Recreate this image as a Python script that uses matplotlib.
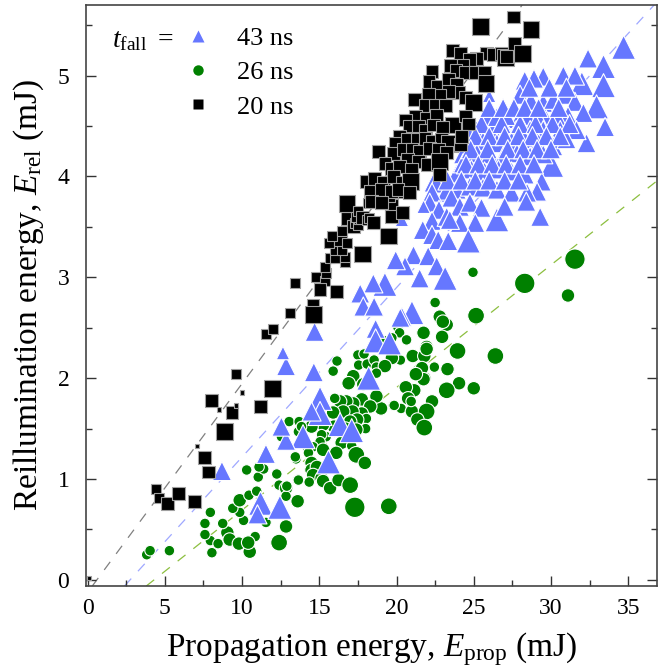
import matplotlib.pyplot as plt
from matplotlib.lines import Line2D
from matplotlib.ticker import MultipleLocator

plt.rcParams['font.family'] = 'Liberation Serif'
plt.rcParams['mathtext.fontset'] = 'custom'
plt.rcParams['mathtext.rm'] = 'Liberation Serif'
plt.rcParams['mathtext.it'] = 'Liberation Serif:italic'

## 20 ns (squares): x, y, marker class
sq_x = [0.1, 4.4, 4.6, 5.2, 5.9, 6.9, 7.55, 7.85, 7.1, 8.85, 9.35, 9.6, 8.5, 8.0, 10.0, 11.2, 11.95, 9.6,
        11.55, 12.0, 13.1, 14.6, 14.65, 13.4, 14.8, 15.4, 15.05, 16.1, 15.45, 15.4, 15.7, 16.0, 16.65, 16.65,
        16.0, 16.5, 15.6, 16.4, 16.8, 15.8, 16.5, 17.8, 19.5, 16.8, 16.8, 17.2, 17.3, 17.5, 17.6, 17.4, 17.5,
        17.8, 18.1, 18.2, 18.5, 18.15, 18.7, 19.1, 19.7, 19.7, 20.4, 19.6, 20.1,
        25.45, 23.6, 24.15, 25.8, 26.25, 26.8, 27.05, 25.2, 24.75, 23.5, 24.3, 23.85, 24.45, 25.1, 25.7, 22.3,
        25.8, 22.1, 22.65, 23.35, 23.9, 24.05, 24.45, 25.0, 23.35, 22.8, 22.05, 21.15, 21.85, 22.5, 23.15,
        21.25, 20.6, 21.95, 22.6, 23.65, 24.45, 24.65, 20.85, 21.4, 21.9, 22.4, 23.0, 20.2, 20.7, 21.35, 21.85,
        22.3, 22.9, 23.45, 24.15, 24.2, 18.85, 19.9, 19.8, 20.45, 21.0, 21.5, 22.15, 22.7, 23.25, 20.7, 21.4,
        22.0, 22.8, 19.25, 19.7, 20.2, 20.95, 22.8, 18.05, 18.6, 19.15, 19.8, 20.35, 20.9, 18.3, 19.05, 19.7,
        20.1, 20.85, 18.4, 19.05, 28.7, 27.65, 28.15, 27.1, 27.55]
sq_y = [0.02, 0.90, 0.81, 0.76, 0.86, 0.78, 1.21, 1.07, 1.33, 1.47, 1.66, 1.73, 1.69, 1.78, 1.86, 1.72, 1.90, 2.04,
        2.44, 2.49, 2.65, 2.72, 2.63, 2.94, 3.00, 2.96, 2.88, 2.86, 3.04, 3.10, 3.19, 3.19, 3.15, 3.20,
        3.27, 3.27, 3.34, 3.37, 3.34, 3.41, 3.46, 3.23, 3.41, 3.58, 3.73, 3.50, 3.54, 3.52, 3.58, 3.60, 3.66,
        3.59, 3.57, 3.59, 3.54, 3.74, 3.74, 3.74, 3.71, 3.60, 3.64, 3.80, 3.85,
        5.49, 5.25, 5.22, 5.22, 5.21, 5.22, 5.18, 5.17, 5.16, 5.10, 5.10, 5.05, 5.03, 5.03, 5.03, 5.04,
        4.92, 4.94, 4.89, 4.96, 4.91, 4.83, 4.78, 4.73, 4.84, 4.80, 4.81, 4.76, 4.70, 4.70, 4.70,
        4.60, 4.56, 4.58, 4.61, 4.51, 4.60, 4.52, 4.50, 4.50, 4.46, 4.51, 4.49, 4.40, 4.37, 4.37, 4.38,
        4.35, 4.37, 4.33, 4.32, 4.40, 4.25, 4.33, 4.23, 4.27, 4.27, 4.25, 4.28, 4.27, 4.24, 4.17, 4.15,
        4.12, 4.15, 4.13, 4.08, 4.10, 4.07, 4.02, 3.95, 3.98, 3.94, 4.00, 3.94, 3.95, 3.85, 3.87, 3.85,
        3.87, 3.84, 3.75, 3.74, 5.46, 5.32, 5.22, 5.19, 5.58]
sq_cls = [0, 1, 1, 2, 2, 2, 2, 2, 0, 3, 2, 0, 0, 2, 0, 2, 3, 1,
          1, 1, 1, 2, 3, 1, 1, 1, 2, 2, 1, 1, 1, 1, 1, 1,
          1, 1, 1, 2, 1, 1, 1, 3, 3, 2, 3, 2, 1, 1, 1, 1, 1,
          2, 1, 1, 2, 1, 1, 2, 2, 2, 2, 1, 2,
          3, 2, 2, 2, 2, 2, 3, 2, 2, 2, 2, 2, 2, 2, 2, 2,
          3, 2, 2, 2, 2, 2, 2, 3, 2, 2, 2, 2, 2, 2, 2,
          2, 2, 2, 2, 3, 2, 2, 2, 2, 2, 2, 2, 2, 2, 2, 2,
          2, 2, 3, 2, 2, 2, 2, 2, 2, 2, 2, 2, 2, 2, 2, 2,
          2, 3, 2, 2, 2, 2, 2, 2, 2, 2, 2, 2, 3, 2, 2, 2,
          2, 2, 2, 2, 3, 2, 3, 2, 2]

## 43 ns (triangles)
tri_x = [34.7, 32.4, 33.4, 32.0, 33.4, 30.8, 31.55, 29.5, 28.9, 28.3, 32.95, 33.5, 32.3, 30.05, 29.4, 29.1,
         28.0, 28.7, 29.5, 30.15, 30.9, 31.55, 32.1, 31.1, 30.35, 29.7, 29.1, 28.45, 27.9, 27.1, 26.5, 25.7,
         25.2, 26.25, 27.1, 27.75, 28.65, 29.5, 30.6, 31.65, 24.75, 25.6, 26.5, 27.45, 28.3, 29.2, 30.15, 31.0,
         24.3, 25.2, 26.05, 26.9, 27.8, 28.65, 29.5, 23.9, 24.85, 25.7, 26.6, 27.45, 28.3, 23.15, 22.4, 23.9,
         24.75, 25.6, 26.5, 27.45, 28.45, 26.0, 25.85, 26.5, 27.1, 24.55, 24.3, 22.6, 23.25,
         22.3, 23.55, 22.15, 22.75, 21.75, 20.35, 22.3, 23.25, 24.1, 24.75, 25.5, 26.5, 27.0, 28.4, 29.3,
         25.1, 24.1, 23.45, 21.7, 22.3, 22.7, 23.35, 24.65, 21.1, 22.05, 20.55, 19.95, 22.6, 23.15, 21.5,
         19.25, 21.0, 20.35, 18.5, 17.65, 17.85, 18.55, 20.25, 18.65, 18.65, 19.55, 14.7, 12.85, 14.65,
         18.2, 15.05, 15.05, 14.5, 16.35, 17.1, 13.95, 12.85, 12.55, 15.6, 11.55, 8.7, 11.2, 11.0, 12.45, 12.65,
         25.5, 26.8, 28.0, 29.0, 30.1, 31.2, 25.1, 26.0, 27.0, 27.9, 28.8, 29.7, 30.6,
         24.8, 25.9, 27.2, 28.2, 29.1, 30.0, 24.5, 25.3, 26.2, 27.1, 28.0, 28.9,
         23.3, 24.2, 25.1, 26.0, 27.0, 27.9, 26.0, 26.9, 27.6, 28.3, 29.2, 30.5, 28.6, 29.9, 31.0]
tri_y = [5.28, 5.17, 5.09, 4.92, 4.90, 5.00, 5.00, 4.99, 4.97, 4.95, 4.69, 4.49, 4.33, 4.11, 3.95, 3.85,
         4.81, 4.75, 4.73, 4.76, 4.81, 4.74, 4.63, 4.60, 4.60, 4.56, 4.60, 4.60, 4.56, 4.57, 4.57, 4.58,
         4.46, 4.46, 4.45, 4.46, 4.46, 4.46, 4.46, 4.46, 4.33, 4.35, 4.33, 4.35, 4.37, 4.33, 4.30, 4.37,
         4.22, 4.23, 4.22, 4.20, 4.23, 4.20, 4.22, 4.03, 4.07, 4.05, 4.07, 4.05, 4.02, 3.84, 3.94, 3.87,
         3.90, 3.89, 3.87, 3.84, 3.84, 4.80, 4.60, 4.59, 4.60, 4.46, 4.13, 3.93, 3.86,
         3.84, 3.79, 3.74, 3.67, 3.70, 3.57, 3.56, 3.60, 3.70, 3.74, 3.69, 3.57, 3.70, 3.75, 3.60,
         3.54, 3.54, 3.57, 3.47, 3.42, 3.37, 3.36, 3.36, 3.22, 3.21, 3.11, 3.17, 3.11, 2.99, 2.99,
         2.93, 2.65, 2.61, 2.94, 2.84, 2.71, 2.71, 2.60, 2.49, 2.37, 2.35, 2.46, 2.12, 2.06,
         2.00, 1.80, 1.65, 1.67, 1.54, 1.48, 1.42, 1.38, 1.52, 1.17, 1.25, 1.08, 0.76, 0.65, 0.72, 2.25,
         4.52, 4.52, 4.52, 4.52, 4.52, 4.52, 4.40, 4.40, 4.40, 4.40, 4.40, 4.40, 4.40,
         4.27, 4.27, 4.27, 4.27, 4.27, 4.27, 4.12, 4.12, 4.12, 4.12, 4.12, 4.12,
         3.96, 3.96, 3.96, 3.96, 3.96, 3.96, 4.68, 4.68, 4.68, 4.68, 4.68, 4.68, 4.88, 4.88, 4.88]
tri_cls = [3, 2, 3, 3, 3, 2, 2, 2, 2, 2, 3, 2, 2, 3, 2, 2,
           2, 2, 2, 2, 2, 2, 2, 2, 2, 2, 2, 2, 2, 2, 2, 2,
           2, 2, 2, 2, 2, 2, 2, 2, 2, 2, 2, 2, 2, 2, 2, 2,
           2, 2, 2, 2, 2, 2, 2, 2, 2, 2, 2, 2, 2, 2, 2, 2,
           2, 2, 2, 2, 2, 1, 2, 2, 2, 2, 2, 2, 2,
           2, 2, 2, 2, 1, 1, 2, 2, 2, 2, 2, 3, 2, 2, 2,
           2, 2, 2, 2, 2, 2, 2, 3, 2, 2, 2, 2, 2, 3, 2,
           3, 3, 2, 2, 2, 2, 2, 2, 2, 3, 3, 2, 2, 2,
           3, 3, 3, 2, 3, 3, 3, 2, 2, 3, 2, 2, 3, 2, 3, 1,
           2, 2, 2, 2, 2, 2, 2, 2, 2, 2, 2, 2, 2,
           2, 2, 2, 2, 2, 2, 2, 2, 2, 2, 2, 2,
           2, 2, 2, 2, 2, 2, 2, 2, 2, 2, 2, 2, 2, 2, 2]

## 26 ns (circles)
cir_x = [3.83, 4.05, 5.3, 8.05, 7.95, 8.45, 7.6, 7.6, 9.05, 9.2, 9.8, 10.5, 10.85, 10.4, 12.4, 12.85, 11.55,
         8.75, 7.95, 10.1, 9.85, 9.4, 9.85, 10.45, 10.95, 11.05, 12.25, 12.4, 12.85, 13.6, 12.85, 11.4, 11.1,
         10.3, 13.5, 13.6, 13.05, 13.7, 12.55, 13.65, 15.45,
         22.5, 25.15, 22.8, 23.25, 21.75, 22.95, 23.95, 20.1, 20.2, 20.65, 21.95, 21.05, 21.8, 20.25, 19.7,
         19.15, 19.25, 19.7, 21.5, 21.8, 22.45, 23.3, 24.05, 25.0, 23.25, 21.15, 20.6, 20.75, 22.3, 20.3,
         19.8, 19.0, 21.0, 21.95, 21.35, 21.8, 17.5, 17.9, 17.55, 18.1, 18.55, 18.7, 19.25, 18.7, 16.15,
         15.9, 17.2, 16.9, 17.85, 18.7, 17.75, 17.2, 16.75, 16.35, 16.0, 18.3, 17.75, 17.15, 16.55, 15.9,
         18.05, 17.45, 17.0, 18.0, 17.4, 16.7, 15.95, 15.25, 14.5, 13.85, 16.55, 16.45, 17.1, 15.15, 15.05,
         14.6, 14.2, 15.25, 16.1, 17.4, 17.95, 14.3, 13.45, 14.5, 14.5, 14.85, 14.6, 15.15, 15.25, 15.7,
         16.25, 17.0, 13.65, 14.35, 12.9,
         24.95, 31.55, 28.3, 31.1, 23.0, 26.4, 21.95, 21.65, 21.75, 21.25, 20.95, 19.85, 19.5, 17.3]
cir_y = [0.25, 0.29, 0.29, 0.27, 0.39, 0.36, 0.45, 0.56, 0.47, 0.40, 0.36, 0.28, 0.43, 0.37, 0.37, 0.53, 0.57,
         0.56, 0.67, 0.59, 0.67, 0.71, 0.79, 0.84, 0.88, 1.02, 1.05, 0.94, 0.91, 0.78, 0.83, 1.10, 1.12,
         1.09, 1.20, 0.99, 1.57, 1.57, 1.42, 1.47, 1.42,
         2.75, 2.62, 2.61, 2.53, 2.45, 2.41, 2.27, 2.50, 2.45, 2.38, 2.31, 2.22, 2.22, 2.18, 2.20,
         2.30, 2.37, 2.40, 2.08, 2.00, 2.11, 2.09, 1.95, 1.90, 1.88, 1.88, 1.91, 1.80, 1.77, 1.70,
         1.73, 1.70, 1.67, 1.67, 1.59, 1.51, 2.23, 2.24, 2.13, 2.14, 2.18, 2.11, 2.12, 2.05, 2.17,
         2.07, 2.02, 1.95, 1.94, 1.82, 1.79, 1.75, 1.77, 1.77, 1.80, 1.72, 1.65, 1.67, 1.67, 1.66,
         1.60, 1.59, 1.57, 1.50, 1.49, 1.50, 1.52, 1.54, 1.52, 1.52, 1.42, 1.36, 1.33, 1.44, 1.37,
         1.32, 1.32, 1.29, 1.26, 1.24, 1.16, 1.26, 1.22, 1.16, 1.09, 1.12, 1.04, 1.01, 0.98, 0.91,
         0.99, 0.94, 0.99, 0.97, 0.93,
         3.05, 3.18, 2.94, 2.82, 2.56, 2.22, 2.29, 2.10, 1.99, 2.04, 1.77, 1.73, 0.73, 0.72]
cir_cls = [1, 1, 1, 1, 1, 1, 1, 1, 2, 2, 2, 2, 1, 2, 3, 2, 1,
           1, 1, 1, 1, 1, 2, 1, 1, 1, 1, 1, 2, 2, 1, 1, 1,
           1, 1, 1, 1, 1, 1, 1, 1,
           1, 3, 2, 2, 2, 2, 3, 1, 1, 1, 2, 2, 2, 1, 2,
           1, 1, 1, 2, 2, 1, 2, 2, 2, 3, 2, 2, 2, 2, 1,
           1, 2, 2, 3, 2, 3, 1, 1, 1, 1, 1, 1, 2, 1, 1,
           1, 2, 2, 2, 2, 2, 2, 2, 2, 1, 2, 2, 2, 2, 2,
           1, 2, 2, 1, 2, 2, 2, 2, 2, 1, 2, 2, 1, 1, 1,
           1, 1, 2, 2, 3, 2, 1, 1, 2, 2, 2, 2, 2, 2, 2,
           2, 3, 1, 1, 1,
           1, 4, 4, 2, 2, 3, 2, 2, 2, 2, 1, 1, 3, 4]

## dashed guide lines: x-intercept and slope
fit_x0 = [0.6, 2.75, 4.3]
fit_slope = [0.207, 0.168, 0.1215]

labels = ['43 ns', '26 ns', '20 ns']

blue = '#6677ff'
green = '#008000'

fig = plt.figure(figsize=(6.63, 6.72), dpi=100)
ax = fig.add_axes([0.1297, 0.128, 0.8612, 0.8646])

for x0, k, c in zip(fit_x0, fit_slope, ['#808080', '#9fa8ff', '#8cbf3f']):
    ax.axline((x0, 0), slope=k, color=c, lw=0.9, dashes=(8, 8), zorder=1)

s_cir = {1: 58, 2: 95, 3: 145, 4: 215}
s_tri = {1: 95, 2: 190, 3: 300}
s_sq = {0: 10, 1: 52, 2: 85, 3: 145}

ax.scatter(cir_x, cir_y, s=[s_cir[c] for c in cir_cls], marker='o', c=green,
           edgecolors='white', linewidths=0.8, zorder=2)
ax.scatter(tri_x, tri_y, s=[s_tri[c] for c in tri_cls], marker='^', c=blue,
           edgecolors='white', linewidths=0.8, zorder=3)
ax.scatter(sq_x, sq_y, s=[s_sq[c] for c in sq_cls], marker='s', c='black',
           edgecolors='#a0a0a0', linewidths=0.8, zorder=4)

ax.set_xlim(-0.1, 36.86)
ax.set_ylim(-0.06, 5.70)
ax.xaxis.set_major_locator(MultipleLocator(5))
ax.xaxis.set_minor_locator(MultipleLocator(2.5))
ax.yaxis.set_major_locator(MultipleLocator(1))
ax.yaxis.set_minor_locator(MultipleLocator(0.5))
ax.tick_params(which='both', direction='in', top=False, right=True, colors='#333333',
               labelcolor='black', labelsize=17)
ax.tick_params(which='major', length=7, width=1)
ax.tick_params(which='minor', length=4, width=1)
ax.tick_params(axis='x', pad=9)
ax.tick_params(axis='y', pad=12)
for sp in ax.spines.values():
    sp.set_color('#444444')
    sp.set_linewidth(1.2)

ax.set_xlabel(r'Propagation energy, $E_{\mathrm{prop}}$ (mJ)', fontsize=24, labelpad=8)
ax.set_ylabel(r'Reillumination energy, $E_{\mathrm{rel}}$ (mJ)', fontsize=24, labelpad=8)

handles = [Line2D([], [], ls='none', marker='^', ms=9, mfc=blue, mec='none'),
           Line2D([], [], ls='none', marker='o', ms=7.5, mfc=green, mec='none'),
           Line2D([], [], ls='none', marker='s', ms=6.5, mfc='black', mec='none')]
ax.legend(handles, labels, loc='upper left', bbox_to_anchor=(0.177, 0.963), frameon=False,
          fontsize=19, handlelength=0.8, handletextpad=1.1, labelspacing=0.41,
          borderpad=0, borderaxespad=0)
ax.text(0.046, 0.938, r'$t_{\mathrm{fall}}$ $=$', transform=ax.transAxes, fontsize=20,
        va='center', ha='left')

fig.savefig('out.png', dpi=100)
